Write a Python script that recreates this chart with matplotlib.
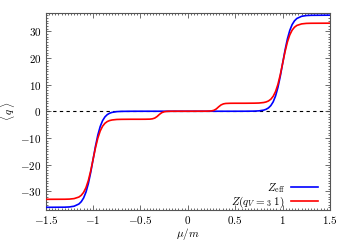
import matplotlib
matplotlib.use("Agg")
import matplotlib.pyplot as plt
from matplotlib.ticker import MultipleLocator

plt.rcParams['mathtext.fontset'] = 'cm'
plt.rcParams['font.family'] = 'serif'
plt.rcParams['font.serif'] = ['DejaVu Serif']

mu = [-1.5, -1.3, -1.25, -1.2, -1.15, -1.125, -1.1, -1.075, -1.05, -1.025, -1.0, -0.975, -0.95, -0.925,
      -0.9, -0.875, -0.85, -0.825, -0.8, -0.75, -0.7, -0.6,
      -0.5, -0.45, -0.4, -0.375, -0.35, -0.325, -0.3, -0.275, -0.25, -0.225, -0.2, -0.15,
      0.0, 0.2, 0.25, 0.275, 0.3, 0.325, 0.35, 0.375, 0.4, 0.45, 0.5,
      0.6, 0.7, 0.75, 0.8, 0.825, 0.85, 0.875, 0.9, 0.925, 0.95, 0.975, 1.0, 1.025, 1.05, 1.075,
      1.1, 1.125, 1.15, 1.2, 1.25, 1.3, 1.5]

q_eff = [-36.0, -35.95, -35.86, -35.58, -34.76, -33.89, -32.48, -30.28, -27.09, -22.88, -18.0, -13.12,
         -8.91, -5.72, -3.52, -2.11, -1.24, -0.73, -0.42, -0.14, -0.05, -0.01,
         0, 0, 0, 0, 0, 0, 0, 0, 0, 0, 0, 0,
         0, 0, 0, 0, 0, 0, 0, 0, 0, 0, 0,
         0.01, 0.05, 0.14, 0.42, 0.73, 1.24, 2.11, 3.52, 5.72, 8.91, 13.12, 18.0, 22.88, 27.09, 30.28,
         32.48, 33.89, 34.76, 35.58, 35.86, 35.95, 36.0]

q_z = [-33.0, -32.97, -32.92, -32.73, -32.15, -31.5, -30.39, -28.61, -25.93, -22.29, -18.0, -13.71,
       -10.07, -7.39, -5.61, -4.5, -3.85, -3.48, -3.27, -3.08, -3.03, -3.0,
       -3.0, -2.99, -2.95, -2.84, -2.57, -1.98, -1.17, -0.52, -0.20, -0.07, -0.02, 0.0,
       0.0, 0.02, 0.13, 0.36, 0.87, 1.67, 2.37, 2.76, 2.92, 2.99, 3.0,
       3.0, 3.03, 3.08, 3.27, 3.48, 3.85, 4.5, 5.61, 7.39, 10.07, 13.71, 18.0, 22.29, 25.93, 28.61,
       30.39, 31.5, 32.15, 32.73, 32.92, 32.97, 33.0]

labels = [r'$Z_{\rm eff}$', r'$Z(q_V =_3\ 1)$']
xticks = [-1.5, -1, -0.5, 0, 0.5, 1, 1.5]
xticklabels = [r'$-1.5$', r'$-1$', r'$-0.5$', r'$0$', r'$0.5$', r'$1$', r'$1.5$']
yticks = [-30, -20, -10, 0, 10, 20, 30]
yticklabels = [r'$-30$', r'$-20$', r'$-10$', r'$0$', r'$10$', r'$20$', r'$30$']

fig = plt.figure(figsize=(3.5, 2.45), dpi=100)
ax = fig.add_axes([0.1306, 0.1429, 0.943 - 0.1306, 0.9457 - 0.1429])

ax.axhline(0, color='black', lw=0.8, ls=(0, (3, 3)), zorder=1)
ax.plot(mu, q_eff, color='#0000ff', lw=1.2, label=labels[0], zorder=3)
ax.plot(mu, q_z, color='#ff0000', lw=1.2, label=labels[1], zorder=4)

ax.set_xlim(-1.5, 1.5)
ax.set_ylim(-37, 36.7)
ax.set_xticks(xticks)
ax.set_xticklabels(xticklabels)
ax.set_yticks(yticks)
ax.set_yticklabels(yticklabels)
ax.xaxis.set_minor_locator(MultipleLocator(0.5 / 15))
ax.yaxis.set_minor_locator(MultipleLocator(1))
ax.tick_params(which='both', direction='in', top=True, right=True, labelsize=8,
               color='#555555', width=0.6)
ax.tick_params(which='major', length=3.5, pad=3)
ax.tick_params(which='minor', length=1.6)
for s in ax.spines.values():
    s.set_color('#555555')
    s.set_linewidth(0.8)

ax.set_xlabel(r'$\mu/m$', fontsize=8, labelpad=0)
ax.set_ylabel(r'$\langle\, q\, \rangle$', fontsize=8, labelpad=2)

leg = ax.legend(loc='lower right', bbox_to_anchor=(0.958, 0.0), frameon=False,
                markerfirst=False, fontsize=8,
                handlelength=2.4, handletextpad=0.6, labelspacing=0.0,
                borderaxespad=0.0, borderpad=0.0)

fig.savefig('out.png', dpi=100)
